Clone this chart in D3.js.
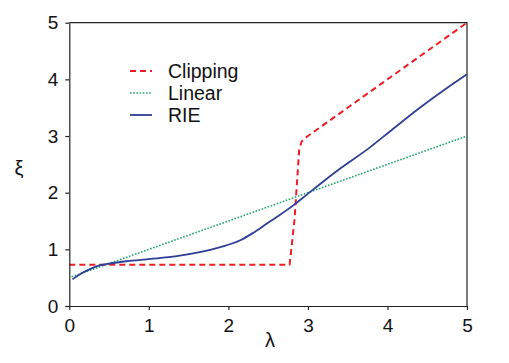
<!DOCTYPE html>
<html>
<head>
<meta charset="utf-8">
<style>
  body { margin: 0; background: #fff; }
  svg { font-family: "Liberation Sans", Arial, sans-serif; }
</style>
</head>
<body>
<svg width="509" height="363"></svg>
<script src="https://d3js.org/d3.v7.min.js"></script>
<script>
// values (lambda, xi)
var clipLambda = [0, 2.77, 2.83, 2.89, 2.92, 2.96, 5];
var clipXi     = [0.73, 0.73, 1.5, 2.75, 2.9, 2.96, 5];

var linLambda = [0.03, 5];
var linXi     = [0.515, 3.0];

var rieLambda = [0.04, 0.135, 0.26, 0.39, 0.51, 0.72, 1.02, 1.35, 1.64, 1.9, 2.15, 2.31, 2.48, 2.65, 2.82, 2.99, 3.15, 3.41, 3.78, 4.03, 4.37, 4.66, 5.0];
var rieXi     = [0.47, 0.56, 0.65, 0.72, 0.75, 0.79, 0.83, 0.88, 0.95, 1.04, 1.16, 1.29, 1.45, 1.61, 1.78, 1.97, 2.15, 2.43, 2.80, 3.08, 3.46, 3.76, 4.09];

var xTicks = [0, 1, 2, 3, 4, 5];
var yTicks = [0, 1, 2, 3, 4, 5];

var seriesNames = ["Clipping", "Linear", "RIE"];

var svg = d3.select("svg"),
    plotLeft = 69.3, plotRight = 467, plotTop = 22.7, plotBottom = 306;

var x = d3.scaleLinear().domain([0, 5]).range([plotLeft, plotRight]);
var y = d3.scaleLinear().domain([0, 5]).range([plotBottom, plotTop]);

var styles = {
  Clipping: {color: "#ee1c24", width: 2, dash: "6,4", curve: d3.curveLinear},
  Linear:   {color: "#1fa86a", width: 1.6, dash: "1.6,1.6", curve: d3.curveLinear},
  RIE:      {color: "#2e3f95", width: 1.8, dash: null, curve: d3.curveMonotoneX}
};

function pairs(a, b) { return a.map(function(d, i) { return [d, b[i]]; }); }

var data = {
  Clipping: pairs(clipLambda, clipXi),
  Linear: pairs(linLambda, linXi),
  RIE: pairs(rieLambda, rieXi)
};

// frame (top + right)
svg.append("path")
    .attr("d", "M" + plotLeft + "," + plotTop + "H" + plotRight + "V" + plotBottom)
    .attr("fill", "none")
    .attr("stroke", "#222")
    .attr("stroke-width", 1.2);

["Linear", "Clipping", "RIE"].forEach(function(k) {
  var line = d3.line()
      .curve(styles[k].curve)
      .x(function(d) { return x(d[0]); })
      .y(function(d) { return y(d[1]); });
  svg.append("path")
      .datum(data[k])
      .attr("fill", "none")
      .attr("stroke", styles[k].color)
      .attr("stroke-width", styles[k].width)
      .attr("stroke-dasharray", styles[k].dash)
      .attr("stroke-linejoin", "round")
      .attr("d", line);
});

var xAxis = svg.append("g")
    .attr("transform", "translate(0," + plotBottom + ")")
    .call(d3.axisBottom(x).tickValues(xTicks).tickSizeInner(4).tickSizeOuter(0).tickPadding(9).tickFormat(d3.format("d")));

var yAxis = svg.append("g")
    .attr("transform", "translate(" + plotLeft + ",0)")
    .call(d3.axisLeft(y).tickValues(yTicks).tickSizeInner(4).tickSizeOuter(0).tickPadding(7).tickFormat(d3.format("d")));

[xAxis, yAxis].forEach(function(g) {
  g.selectAll("path, line").attr("stroke", "#222").attr("stroke-width", 1.2);
  g.selectAll("text").attr("font-size", 19).attr("fill", "#111")
      .attr("font-family", "'Liberation Sans', Arial, sans-serif");
});

svg.append("text")
    .attr("x", 270).attr("y", 347)
    .attr("text-anchor", "middle")
    .attr("font-size", 20)
    .attr("fill", "#111")
    .text("λ");

svg.append("text")
    .attr("x", 19).attr("y", 175)
    .attr("text-anchor", "middle")
    .attr("font-size", 20)
    .attr("fill", "#111")
    .text("ξ");

// legend
var legend = svg.append("g").attr("transform", "translate(130,71)");
seriesNames.forEach(function(k, i) {
  var row = legend.append("g").attr("transform", "translate(0," + (i * 22) + ")");
  row.append("line")
      .attr("x1", 0).attr("x2", 22)
      .attr("stroke", styles[k].color)
      .attr("stroke-width", styles[k].width)
      .attr("stroke-dasharray", styles[k].dash);
  row.append("text")
      .attr("x", 38).attr("y", 7)
      .attr("font-size", 19.5)
      .attr("fill", "#111")
      .text(k);
});
</script>
</body>
</html>
